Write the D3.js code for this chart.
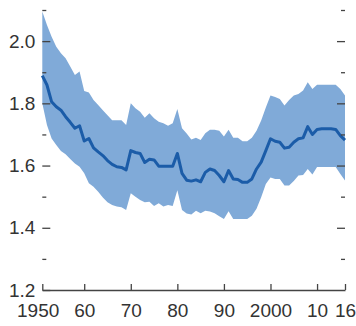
<!DOCTYPE html>
<html>
<head>
<meta charset="utf-8">
<script src="https://cdn.jsdelivr.net/npm/d3@7"></script>
<style>
  html, body { margin: 0; padding: 0; background: #fff; }
  svg { display: block; }
  .axis text { font-family: "Liberation Sans", Arial, sans-serif; font-size: 19px; fill: #333; }
  .axis line, .axis path { stroke: #444; stroke-width: 1.3px; }
</style>
</head>
<body>
<svg id="chart" width="356" height="326"></svg>
<script>
// Years covered by the series
const years = d3.range(1951, 2017);

// Median of the distribution
const median = [
  1.889, 1.859, 1.805, 1.789, 1.778, 1.757, 1.739, 1.720, 1.728, 1.679,
  1.687, 1.657, 1.644, 1.632, 1.616, 1.604, 1.596, 1.594, 1.586, 1.648,
  1.642, 1.639, 1.610, 1.620, 1.618, 1.598, 1.598, 1.598, 1.598, 1.639,
  1.575, 1.553, 1.550, 1.554, 1.548, 1.578, 1.589, 1.584, 1.568, 1.548,
  1.584, 1.557, 1.555, 1.546, 1.546, 1.557, 1.589, 1.611, 1.648, 1.686,
  1.678, 1.675, 1.656, 1.659, 1.675, 1.686, 1.689, 1.725, 1.700, 1.716,
  1.718, 1.718, 1.718, 1.716, 1.696, 1.682
];

// Upper edge of the shaded range
const upper = [
  2.095, 2.052, 2.014, 1.982, 1.961, 1.945, 1.918, 1.891, 1.902, 1.840,
  1.835, 1.811, 1.795, 1.778, 1.762, 1.746, 1.746, 1.746, 1.730, 1.800,
  1.784, 1.773, 1.754, 1.768, 1.752, 1.741, 1.736, 1.728, 1.736, 1.782,
  1.720, 1.703, 1.684, 1.689, 1.682, 1.704, 1.715, 1.715, 1.712, 1.693,
  1.715, 1.689, 1.689, 1.678, 1.678, 1.689, 1.712, 1.745, 1.787, 1.825,
  1.820, 1.814, 1.793, 1.811, 1.825, 1.830, 1.841, 1.868, 1.846, 1.860,
  1.860, 1.860, 1.860, 1.860, 1.846, 1.825
];

// Lower edge of the shaded range
const lower = [
  1.800, 1.730, 1.687, 1.666, 1.647, 1.636, 1.621, 1.607, 1.596, 1.575,
  1.543, 1.532, 1.516, 1.497, 1.482, 1.473, 1.468, 1.466, 1.457, 1.511,
  1.500, 1.489, 1.482, 1.484, 1.470, 1.479, 1.468, 1.473, 1.470, 1.521,
  1.457, 1.446, 1.443, 1.455, 1.447, 1.455, 1.452, 1.447, 1.437, 1.428,
  1.453, 1.428, 1.428, 1.428, 1.428, 1.439, 1.461, 1.498, 1.541, 1.562,
  1.557, 1.557, 1.536, 1.536, 1.550, 1.568, 1.570, 1.589, 1.571, 1.595,
  1.595, 1.595, 1.595, 1.595, 1.573, 1.552
];

// Axis ticks and labels
const xTickYears = [1951, 1960, 1970, 1980, 1990, 2000, 2010, 2016];
const xLabelYears = [1950, 1960, 1970, 1980, 1990, 2000, 2010, 2016];
const xLabels = ["1950", "60", "70", "80", "90", "2000", "10", "16"];
const yMajor = [1.2, 1.4, 1.6, 1.8, 2.0];
const yMinor = [1.3, 1.5, 1.7, 1.9, 2.1];
const yLabels = ["1.2", "1.4", "1.6", "1.8", "2.0"];

const svg = d3.select("#chart");
const plotLeft = 42.3, plotRight = 345, plotTop = 10, plotBottom = 290;

const x = d3.scaleLinear().domain([1951, 2016]).range([plotLeft, plotRight]);
const y = d3.scaleLinear().domain([1.2, 2.1]).range([plotBottom, plotTop]);

const rows = years.map((yr, i) => ({ yr, m: median[i], hi: upper[i], lo: lower[i] }));

// Shaded range
svg.append("path")
  .datum(rows)
  .attr("fill", "#80aad8")
  .attr("d", d3.area().x(d => x(d.yr)).y0(d => y(d.lo)).y1(d => y(d.hi)));

// Median line
svg.append("path")
  .datum(rows)
  .attr("fill", "none")
  .attr("stroke", "#1b5ca8")
  .attr("stroke-width", 3)
  .attr("stroke-linejoin", "round")
  .attr("d", d3.line().x(d => x(d.yr)).y(d => y(d.m)));

// Left axis: major ticks with labels, minor ticks without
const yLabelMap = new Map(yMajor.map((v, i) => [v, yLabels[i]]));
svg.append("g").attr("class", "axis")
  .attr("transform", `translate(${plotLeft},0)`)
  .call(d3.axisLeft(y).tickValues(yMajor).tickSize(-8).tickPadding(7)
        .tickFormat(v => yLabelMap.get(v)))
  .call(g => g.select(".domain").remove());
svg.append("g").attr("class", "axis")
  .attr("transform", `translate(${plotLeft},0)`)
  .call(d3.axisLeft(y).tickValues(yMinor).tickSize(-4).tickFormat(""))
  .call(g => g.select(".domain").remove());

// Right axis: ticks only
svg.append("g").attr("class", "axis")
  .attr("transform", `translate(${plotRight},0)`)
  .call(d3.axisRight(y).tickValues(yMajor.slice(1)).tickSize(-8).tickFormat(""))
  .call(g => g.select(".domain").remove());
svg.append("g").attr("class", "axis")
  .attr("transform", `translate(${plotRight},0)`)
  .call(d3.axisRight(y).tickValues(yMinor).tickSize(-4).tickFormat(""))
  .call(g => g.select(".domain").remove());

// Bottom axis: line with inward ticks
svg.append("g").attr("class", "axis")
  .attr("transform", `translate(0,${plotBottom})`)
  .call(d3.axisBottom(x).tickValues(xTickYears).tickSize(-6).tickSizeOuter(0).tickFormat(""));

// Bottom axis labels
const xLabelMap = new Map(xLabelYears.map((v, i) => [v, xLabels[i]]));
svg.append("g").attr("class", "axis")
  .attr("transform", `translate(0,${plotBottom})`)
  .call(d3.axisBottom(x).tickValues(xLabelYears).tickSize(0).tickPadding(14)
        .tickFormat(v => xLabelMap.get(v)))
  .call(g => g.select(".domain").remove());
</script>
</body>
</html>
